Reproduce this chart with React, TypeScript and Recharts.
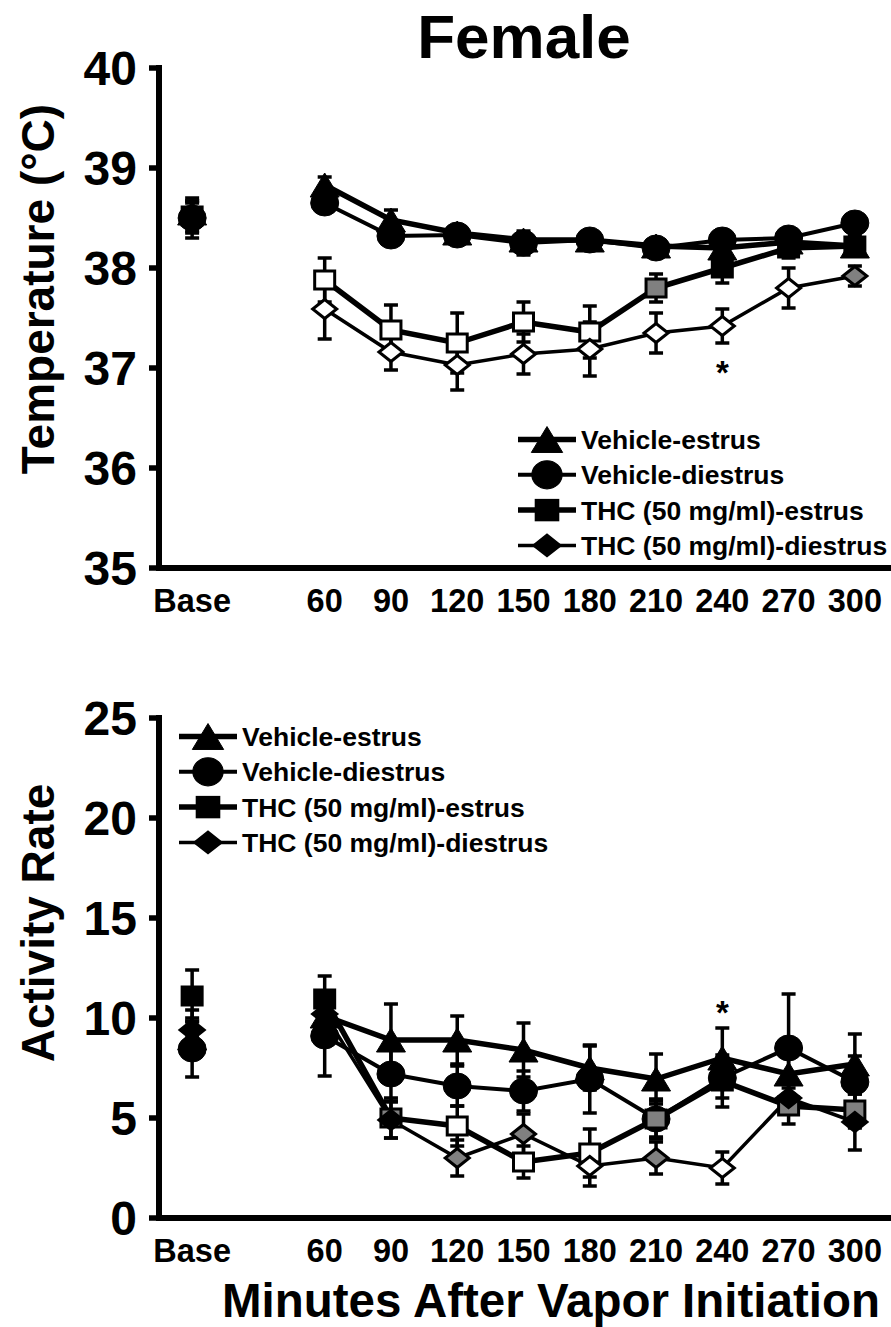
import React from 'react';
import { LineChart, Line, XAxis, YAxis, ErrorBar, Legend, ReferenceDot } from 'recharts';

const FONT = '"Liberation Sans", Arial, Helvetica, sans-serif';

// x slots: baseline, an empty gap, then minutes after vapor initiation
const timeLabels = ['Base', '', '60', '90', '120', '150', '180', '210', '240', '270', '300'];

// Temperature (°C): mean and SEM per slot
const tempVehEstrus = [38.55, null, 38.83, 38.48, 38.35, 38.28, 38.28, 38.22, 38.2, 38.26, 38.22];
const tempVehEstrusSem = [0.12, null, 0.08, 0.1, 0.07, 0.07, 0.08, 0.07, 0.1, 0.06, 0.05];
const tempVehDiestrus = [38.5, null, 38.65, 38.32, 38.33, 38.25, 38.28, 38.2, 38.28, 38.3, 38.45];
const tempVehDiestrusSem = [0.2, null, 0.08, 0.08, 0.07, 0.12, 0.08, 0.08, 0.1, 0.08, 0.06];
const tempThcEstrus = [38.52, null, 37.88, 37.38, 37.25, 37.46, 37.36, 37.8, 38.0, 38.2, 38.22];
const tempThcEstrusSem = [0.15, null, 0.22, 0.25, 0.3, 0.2, 0.26, 0.14, 0.15, 0.1, 0.1];
const tempThcDiestrus = [38.5, null, 37.59, 37.16, 37.03, 37.14, 37.19, 37.35, 37.42, 37.8, 37.92];
const tempThcDiestrusSem = [0.15, null, 0.3, 0.18, 0.25, 0.2, 0.27, 0.2, 0.17, 0.2, 0.1];
// symbol fill per point: f = filled, o = open, g = grey
const tempThcEstrusMark = ['f', null, 'o', 'o', 'o', 'o', 'o', 'g', 'f', 'f', 'f'];
const tempThcDiestrusMark = ['f', null, 'o', 'o', 'o', 'o', 'o', 'o', 'o', 'o', 'g'];
const tempStar = { label: '240', value: 36.96 };

// Activity rate: mean and SEM per slot
const actVehEstrus = [9.0, null, 10.1, 8.9, 8.9, 8.4, 7.5, 6.95, 8.0, 7.2, 7.7];
const actVehEstrusSem = [1.0, null, 1.0, 1.8, 1.2, 1.35, 1.1, 1.25, 1.5, 1.0, 1.5];
const actVehDiestrus = [8.45, null, 9.1, 7.2, 6.6, 6.35, 6.95, 4.95, 7.0, 8.5, 6.8];
const actVehDiestrusSem = [1.4, null, 2.0, 1.35, 1.0, 1.0, 1.7, 0.9, 1.0, 2.7, 1.3];
const actThcEstrus = [11.1, null, 10.95, 5.0, 4.6, 2.8, 3.25, 4.95, 6.85, 5.6, 5.4];
const actThcEstrusSem = [1.3, null, 1.15, 1.0, 1.0, 0.8, 1.2, 1.0, 1.3, 0.9, 0.9];
const actThcDiestrus = [9.4, null, 10.2, 4.9, 3.0, 4.2, 2.6, 3.0, 2.5, 6.0, 4.8];
const actThcDiestrusSem = [1.0, null, 0.8, 0.9, 0.9, 1.0, 1.0, 0.8, 0.8, 0.8, 1.4];
const actThcEstrusMark = ['f', null, 'f', 'g', 'o', 'o', 'o', 'g', 'f', 'g', 'g'];
const actThcDiestrusMark = ['f', null, 'f', 'f', 'g', 'g', 'o', 'g', 'o', 'f', 'f'];
const actStar = { label: '240', value: 10.27 };

const tempTicks = [35, 36, 37, 38, 39, 40];
const actTicks = [0, 5, 10, 15, 20, 25];

type Shape = 'triangle' | 'circle' | 'square' | 'diamond';

const SERIES: { key: string; name: string; shape: Shape; lineWidth: number }[] = [
  { key: 've', name: 'Vehicle-estrus', shape: 'triangle', lineWidth: 5.5 },
  { key: 'vd', name: 'Vehicle-diestrus', shape: 'circle', lineWidth: 4 },
  { key: 'te', name: 'THC (50 mg/ml)-estrus', shape: 'square', lineWidth: 5.5 },
  { key: 'td', name: 'THC (50 mg/ml)-diestrus', shape: 'diamond', lineWidth: 3.5 },
];

const FILL: Record<string, string> = { f: '#000000', o: '#ffffff', g: '#808080' };

const boundaryTicks = timeLabels.map((_, i) => i).concat(timeLabels.length);
const centerTicks = timeLabels.map((_, i) => i + 0.5).filter((_, i) => timeLabels[i] !== '');
const slotOf = (label: string) => timeLabels.indexOf(label) + 0.5;

function buildRows(cols: Record<string, (number | null)[]>) {
  return timeLabels.map((label, i) => {
    const row: any = { pos: i + 0.5, label };
    Object.keys(cols).forEach((k) => (row[k] = cols[k][i]));
    return row;
  });
}

const tempRows = buildRows({
  ve: tempVehEstrus, veSem: tempVehEstrusSem,
  vd: tempVehDiestrus, vdSem: tempVehDiestrusSem,
  te: tempThcEstrus, teSem: tempThcEstrusSem,
  td: tempThcDiestrus, tdSem: tempThcDiestrusSem,
});

const actRows = buildRows({
  ve: actVehEstrus, veSem: actVehEstrusSem,
  vd: actVehDiestrus, vdSem: actVehDiestrusSem,
  te: actThcEstrus, teSem: actThcEstrusSem,
  td: actThcDiestrus, tdSem: actThcDiestrusSem,
});

// draws one symbol, k scales it (legend symbols are a bit bigger)
function Marker({ shape, cx, cy, fill, k = 1 }: { shape: Shape; cx: number; cy: number; fill: string; k?: number }) {
  if (shape === 'triangle') {
    const hw = 14.5 * k, hh = 12 * k;
    return <polygon points={`${cx},${cy - hh} ${cx + hw},${cy + hh} ${cx - hw},${cy + hh}`} fill={fill} stroke="#000" strokeWidth={1} />;
  }
  if (shape === 'circle') {
    return <ellipse cx={cx} cy={cy} rx={14} ry={13} fill={fill} stroke="#000" strokeWidth={1} transform={k !== 1 ? `translate(${cx},${cy}) scale(${k}) translate(${-cx},${-cy})` : undefined} />;
  }
  if (shape === 'square') {
    const hw = 10 * k, hh = 9 * k;
    return <rect x={cx - hw} y={cy - hh} width={2 * hw} height={2 * hh} fill={fill} stroke="#000" strokeWidth={3} />;
  }
  const hw = 12 * k, hh = 9.5 * k;
  return <polygon points={`${cx},${cy - hh} ${cx + hw},${cy} ${cx},${cy + hh} ${cx - hw},${cy}`} fill={fill} stroke="#000" strokeWidth={3} />;
}

const LegendBox = () => (
  <svg width={380} height={142} style={{ display: 'block', overflow: 'visible' }}>
    {SERIES.map((s, i) => {
      const cy = 17.5 + i * 35.3;
      return (
        <g key={s.key}>
          <line x1={0} x2={58} y1={cy} y2={cy} stroke="#000" strokeWidth={s.lineWidth} />
          <Marker shape={s.shape} cx={29} cy={cy} fill="#000" k={1.08} />
          <text x={63} y={cy} dy="0.36em" fontSize={26.5} fontWeight={700} fontFamily={FONT} fill="#000">
            {s.name}
          </text>
        </g>
      );
    })}
  </svg>
);

interface PanelProps {
  rows: any[];
  domain: [number, number];
  yTicks: number[];
  marks: Record<string, (string | null)[]>;
  legendLeft: number;
  legendTop: number;
  star: { label: string; value: number };
}

const Panel = ({ rows, domain, yTicks, marks, legendLeft, legendTop, star }: PanelProps) => (
  <LineChart width={891} height={620} data={rows} margin={{ top: 68, right: 3, bottom: 2, left: 0 }}>
    <XAxis
      xAxisId="grid"
      dataKey="pos"
      type="number"
      domain={[0, timeLabels.length]}
      ticks={boundaryTicks}
      tick={false}
      tickSize={9}
      stroke="#000"
      strokeWidth={6}
      tickLine={{ stroke: '#000', strokeWidth: 5.5 }}
      axisLine={{ stroke: '#000', strokeWidth: 6, strokeLinecap: 'square' }}
      height={10}
    />
    <XAxis
      xAxisId="lab"
      dataKey="pos"
      type="number"
      domain={[0, timeLabels.length]}
      ticks={centerTicks}
      interval={0}
      tickFormatter={(v: number) => timeLabels[Math.floor(v)]}
      axisLine={false}
      tickLine={false}
      tickSize={0}
      tickMargin={11}
      height={40}
      tick={{ fill: '#000', fontSize: 32.5, fontWeight: 700, fontFamily: FONT }}
    />
    <YAxis
      type="number"
      domain={domain}
      ticks={yTicks}
      interval={0}
      width={159}
      tickSize={10}
      tickMargin={12}
      stroke="#000"
      strokeWidth={6}
      tickLine={{ stroke: '#000', strokeWidth: 5.5 }}
      axisLine={{ stroke: '#000', strokeWidth: 6, strokeLinecap: 'square' }}
      tick={{ fill: '#000', fontSize: 48, fontWeight: 700, fontFamily: FONT }}
    />
    {SERIES.map((s) => (
      <Line
        key={s.key}
        xAxisId="lab"
        dataKey={s.key}
        name={s.name}
        type="linear"
        stroke="#000"
        strokeWidth={s.lineWidth}
        connectNulls={false}
        isAnimationActive={false}
        activeDot={false}
        dot={(p: any) => {
          if (p.cy == null || p.value == null) return <g key={`${s.key}-${p.index}`} />;
          const m = marks[s.key] ? marks[s.key][p.index] : 'f';
          return <Marker key={`${s.key}-${p.index}`} shape={s.shape} cx={p.cx} cy={p.cy} fill={FILL[m || 'f']} />;
        }}
      >
        <ErrorBar dataKey={`${s.key}Sem`} width={7} strokeWidth={3.5} stroke="#000" direction="y" />
      </Line>
    ))}
    <ReferenceDot
      xAxisId="lab"
      x={slotOf(star.label)}
      y={star.value}
      r={0}
      fill="none"
      stroke="none"
      ifOverflow="visible"
      label={{ value: '*', position: 'center', fill: '#000', fontSize: 33, fontWeight: 700, fontFamily: FONT }}
    />
    <Legend
      layout="horizontal"
      verticalAlign="middle"
      align="center"
      content={() => <LegendBox />}
      wrapperStyle={{ left: legendLeft, top: legendTop, width: 380, height: 142, margin: 0, padding: 0, lineHeight: 0 }}
    />
  </LineChart>
);

export default function App() {
  return (
    <div style={{ position: 'absolute', left: 0, top: 0, width: 891, height: 1327, background: '#fff', fontFamily: FONT }}>
      <div style={{ position: 'absolute', left: 0, top: 0 }}>
        <Panel
          rows={tempRows}
          domain={[35, 40]}
          yTicks={tempTicks}
          marks={{ te: tempThcEstrusMark, td: tempThcDiestrusMark }}
          legendLeft={518}
          legendTop={422}
          star={tempStar}
        />
      </div>
      <div style={{ position: 'absolute', left: 0, top: 650 }}>
        <Panel
          rows={actRows}
          domain={[0, 25]}
          yTicks={actTicks}
          marks={{ te: actThcEstrusMark, td: actThcDiestrusMark }}
          legendLeft={179}
          legendTop={69}
          star={actStar}
        />
      </div>
      <svg width={891} height={1327} style={{ position: 'absolute', left: 0, top: 0, pointerEvents: 'none' }}>
        <text x={524} y={58} textAnchor="middle" fontSize={62} fontWeight={700} fontFamily={FONT} fill="#000">
          Female
        </text>
        <text transform="translate(54,289) rotate(-90)" textAnchor="middle" fontSize={46} fontWeight={700} fontFamily={FONT} fill="#000">
          Temperature (°C)
        </text>
        <text transform="translate(54,923) rotate(-90)" textAnchor="middle" fontSize={46} fontWeight={700} fontFamily={FONT} fill="#000">
          Activity Rate
        </text>
        <text x={551} y={1317} textAnchor="middle" fontSize={47.5} fontWeight={700} fontFamily={FONT} fill="#000">
          Minutes After Vapor Initiation
        </text>
      </svg>
    </div>
  );
}
